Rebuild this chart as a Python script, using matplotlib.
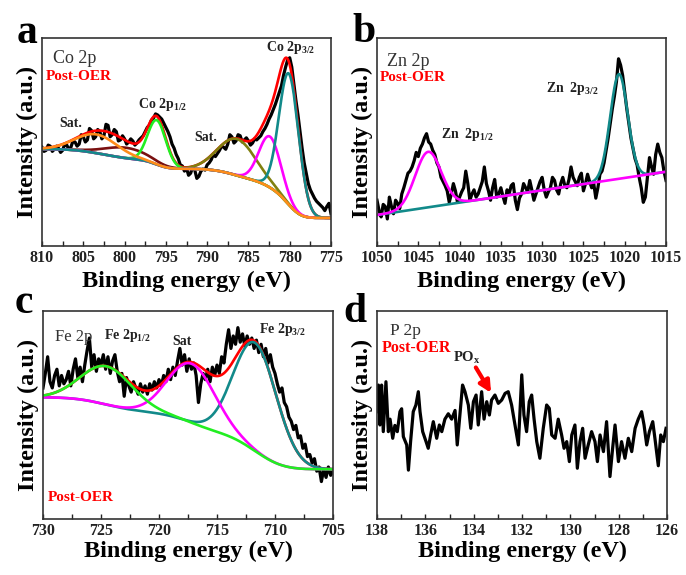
import numpy as np
import matplotlib.pyplot as plt
from matplotlib.ticker import MultipleLocator

plt.rcParams['font.family'] = 'serif'
plt.rcParams['font.serif'] = ['Liberation Serif', 'DejaVu Serif']
plt.rcParams['mathtext.default'] = 'regular'

# ---------------- data (intensity in % of axis height) ----------------
# a: Co 2p, 810 -> 775 eV every 0.25 eV
co_range = (810.0, 775.0)
co_counts = [47.5, 45.5, 46.0, 48.5, 48.0, 45.5, 46.5, 48.0, 47.0, 45.0,
             46.0, 49.0, 48.5, 46.5, 47.5, 50.5, 50.0, 48.0, 49.0, 53.5,
             52.5, 50.0, 51.0, 56.5, 55.5, 51.5, 52.5, 56.0, 55.0, 51.5,
             53.0, 58.5, 58.0, 52.5, 53.5, 56.0, 55.0, 50.5, 51.0, 53.0,
             51.5, 49.0, 50.0, 51.5, 50.5, 48.5, 49.5, 51.0, 52.0, 53.0,
             55.0, 57.0, 58.0, 60.5, 61.5, 63.5, 63.0, 62.0, 61.0, 59.0,
             57.0, 55.0, 52.5, 49.0, 47.0, 44.0, 42.0, 39.0, 38.5, 36.0,
             37.5, 34.0, 35.0, 38.0, 36.5, 32.5, 33.5, 36.0, 37.0, 36.5,
             39.0, 40.0, 41.5, 44.0, 43.0, 44.5, 46.0, 48.0, 47.5, 46.5,
             49.0, 53.5, 52.5, 49.5, 50.5, 53.5, 53.0, 50.0, 51.0, 52.0,
             50.5, 48.5, 49.5, 51.5, 51.0, 52.0, 53.0, 55.0, 56.5, 58.5,
             61.0, 63.0, 65.5, 68.0, 71.0, 74.0, 77.0, 82.0, 86.0, 89.5,
             90.5, 86.0, 78.0, 70.0, 63.0, 55.0, 47.0, 40.0, 35.0, 30.0,
             27.0, 25.0, 23.0, 21.5, 20.5, 19.5, 18.5, 17.0, 19.0, 20.5,
             15.5]
# fitted components: centre (eV), height, FWHM
co_sat1 = (803.4, 9.0, 6.0)
co_p12b = (799.8, 5.0, 6.0)
co_p12 = (796.1, 21.3, 2.6)
co_sat2 = (786.4, 17.5, 5.4)
co_p32b = (782.4, 24.5, 3.1)
co_p32 = (780.1, 63.0, 2.8)
co_bg = (13.5, 46.6)  # background at low-BE / high-BE end

# b: Zn 2p, 1050 -> 1015 eV every 0.25 eV
zn_range = (1050.0, 1015.0)
zn_counts = [22, 17, 14, 20, 19, 13, 23.5, 19, 15.5, 22,
             20.5, 18, 25, 28, 31.5, 35, 36, 38, 41, 45,
             43, 47, 49, 52, 54, 50, 49, 46, 44, 40,
             38, 33, 31, 29, 26.5, 21, 25, 30, 26.5, 21,
             23.5, 26, 28, 36, 30, 22, 25, 27, 23.5, 25,
             28, 31, 38, 30, 26.5, 22, 28, 32, 23.5, 25,
             28, 24, 20.5, 27, 25, 29, 30, 22, 17.5, 23,
             25, 30, 28, 26, 31.5, 27, 22, 25, 28, 31,
             33, 27, 23.5, 26, 28, 33, 31.5, 27, 25, 30,
             33, 29, 28, 32, 38, 33, 31, 29, 33, 35,
             26.5, 30, 34.5, 31, 28, 30, 23, 28, 34.5, 36,
             40, 46, 52, 59, 66, 72, 79, 90, 87, 82,
             74, 66, 59, 52, 47, 42, 39, 33, 28, 21,
             23.5, 33, 42.5, 38, 34.5, 44, 49, 45, 42.5, 36,
             31.5]
zn_p12 = (1043.8, 26.7, 3.7)
zn_p32 = (1020.7, 50.3, 2.5)
zn_bg = (14.9, 35.7)  # linear background at 1050 / 1015 eV

# c: Fe 2p, 730 -> 705 eV every 0.2 eV
fe_range = (730.0, 705.0)
fe_counts = [63, 70, 78, 66, 63, 69, 72, 64, 69, 65,
             67, 71, 64, 72, 77, 68, 73, 66, 74, 81,
             87, 73, 79, 71, 77, 74, 79, 72, 78, 70,
             76, 79, 71, 66, 70, 59, 68, 64, 61, 66,
             63, 60, 65, 61, 64, 60, 65, 62, 66, 63,
             67, 64, 69, 66, 72, 67, 73, 69, 76, 82,
             74, 79, 71, 77, 72, 75, 69, 56, 65, 70,
             67, 72, 66, 73, 69, 74, 70, 78, 75, 84,
             91, 82, 88, 84, 92, 85, 89, 83, 88, 84,
             87, 82, 86, 80, 84, 78, 82, 75, 79, 73,
             70, 65, 61, 63, 56, 54, 49, 47, 43, 45,
             39, 40, 34, 36, 30, 31, 27, 29, 23, 25,
             18, 24, 20, 25, 21, 23]
fe_p12 = (724.5, 18.4, 5.2)
fe_sat = (717.2, 28.4, 4.8)
fe_p32 = (711.7, 52.0, 4.4)
fe_bg = (23.9, 58.5)

# d: P 2p
p_energy = [138.00, 137.94, 137.88, 137.81, 137.74, 137.63, 137.53, 137.46, 137.35, 137.26,
            137.16, 137.05, 136.98, 136.91, 136.77, 136.70, 136.61, 136.50, 136.39, 136.29,
            136.22, 136.11, 135.97, 135.88, 135.78, 135.67, 135.53, 135.42, 135.32, 135.19,
            135.05, 134.91, 134.77, 134.68, 134.57, 134.46, 134.36, 134.22, 134.12, 134.01,
            133.90, 133.81, 133.67, 133.57, 133.46, 133.35, 133.26, 133.12, 132.98, 132.84,
            132.70, 132.57, 132.43, 132.29, 132.15, 132.01, 131.92, 131.81, 131.70, 131.60,
            131.50, 131.39, 131.26, 131.12, 130.98, 130.87, 130.77, 130.63, 130.50, 130.36,
            130.26, 130.15, 130.04, 129.94, 129.81, 129.71, 129.60, 129.49, 129.39, 129.26,
            129.12, 128.98, 128.88, 128.77, 128.63, 128.50, 128.36, 128.25, 128.15, 128.01,
            127.88, 127.74, 127.60, 127.46, 127.32, 127.19, 127.05, 126.95, 126.84, 126.73,
            126.59, 126.50, 126.36, 126.26, 126.15, 126.04]
p_counts = [51.6, 64.4, 45.2, 64.4, 42.0, 66.0, 42.0, 48.0, 38.8, 45.0,
            42.0, 51.6, 53.0, 39.6, 35.6, 23.5, 37.2, 51.6, 54.8, 61.2,
            51.6, 42.0, 37.2, 34.0, 40.4, 46.8, 38.8, 45.2, 42.0, 48.0,
            50.6, 48.0, 52.2, 35.6, 50.0, 64.4, 61.2, 54.8, 43.6, 56.4,
            59.6, 45.2, 61.2, 48.0, 56.4, 50.0, 57.2, 59.6, 55.6, 57.2,
            60.4, 61.2, 54.8, 45.2, 35.6, 69.3, 50.0, 42.0, 56.4, 59.6,
            48.0, 37.2, 29.2, 43.6, 54.8, 53.2, 40.4, 38.8, 48.0, 40.4,
            34.0, 37.2, 27.6, 40.4, 45.2, 24.4, 37.2, 43.6, 29.2, 35.6,
            42.0, 37.2, 27.6, 40.4, 32.4, 46.8, 20.4, 34.0, 45.2, 27.6,
            37.2, 29.2, 38.8, 32.4, 43.6, 48.0, 51.6, 45.2, 35.6, 42.0,
            46.8, 38.8, 25.6, 40.4, 37.2, 43.6]
p_arrow = ((133.97, 74.0), (133.22, 59.5))

RED, TEAL, MAG, GREEN = '#ff0000', '#128a8a', '#ff00ff', '#22ee22'
ORANGE, OLIVE, BROWN = '#ff8c1a', '#80800f', '#7a1010'
TXT = '#333333'


def gauss(E, peak):
    c, h, w = peak
    return h * np.exp(-4 * np.log(2) * (E - c) ** 2 / w ** 2)


def shirley(E, comps, ends):
    # E ascending; background steps up with the integrated peak area
    cum = np.cumsum(sum(comps))
    return ends[0] + (ends[1] - ends[0]) * cum / cum[-1]


def style(ax, xr, major, minor, xpad=1):
    ax.set_xlim(*xr)
    ax.set_ylim(0, 100)
    ax.set_yticks([])
    ax.xaxis.set_major_locator(MultipleLocator(major))
    ax.xaxis.set_minor_locator(MultipleLocator(minor))
    ax.tick_params(axis='x', which='both', direction='in', length=3.5, width=1.0,
                   pad=3, labelsize=11.5, colors='#222222')
    for lab in ax.get_xticklabels():
        lab.set_fontweight('bold')
    for s in ax.spines.values():
        s.set_linewidth(1.2)
        s.set_color('#333333')
    ax.set_xlabel('Binding energy (eV)', fontsize=17.5, fontweight='bold', labelpad=xpad)
    ax.set_ylabel('Intensity (a.u.)', fontsize=17.5, fontweight='bold', labelpad=3)


fig = plt.figure(figsize=(6.86, 5.75), dpi=100)
W, H = 686.0, 575.0
ax_a = fig.add_axes([42 / W, 1 - 246 / H, 289 / W, 208 / H])
ax_b = fig.add_axes([377 / W, 1 - 246 / H, 289 / W, 208 / H])
ax_c = fig.add_axes([43 / W, 1 - 519 / H, 290 / W, 208 / H])
ax_d = fig.add_axes([377 / W, 1 - 519 / H, 290 / W, 208 / H])

LW = 1.9
DLW = 2.3
lab_kw = dict(fontsize=10, fontweight='bold', color='#222222')
oer_kw = dict(fontsize=11, fontweight='bold', color=RED)
el_kw = dict(fontsize=13, color=TXT)

# ---------------- a ----------------
ax = ax_a
E = np.linspace(co_range[0], co_range[1], len(co_counts))
ax.plot(E, co_counts, color='black', lw=DLW)
Ef = np.linspace(co_range[1], co_range[0], 600)
comps = [gauss(Ef, p) for p in (co_sat1, co_p12b, co_p12, co_sat2, co_p32b, co_p32)]
bg = shirley(Ef, comps, co_bg)
ax.plot(Ef, bg + sum(comps), color=RED, lw=LW)
for comp, col in zip([comps[1], comps[2], comps[3], comps[4], comps[5], comps[0]],
                     [BROWN, GREEN, OLIVE, MAG, TEAL, ORANGE]):
    ax.plot(Ef, bg + comp, color=col, lw=LW)
style(ax, co_range, 5, 2.5, xpad=3)
ax.text(0.038, 0.90, 'Co 2p', transform=ax.transAxes, va='center', **el_kw)
ax.text(0.014, 0.817, 'Post-OER', transform=ax.transAxes, va='center', **oer_kw)
ax.text(0.859, 0.952, 'Co 2p$_{3/2}$', transform=ax.transAxes, ha='center', va='center', **lab_kw)
ax.text(0.416, 0.678, 'Co 2p$_{1/2}$', transform=ax.transAxes, ha='center', va='center', **lab_kw)
ax.text(0.098, 0.587, 'Sat.', transform=ax.transAxes, ha='center', va='center', **lab_kw)
ax.text(0.566, 0.522, 'Sat.', transform=ax.transAxes, ha='center', va='center', **lab_kw)

# ---------------- b ----------------
ax = ax_b
E = np.linspace(zn_range[0], zn_range[1], len(zn_counts))
ax.plot(E, zn_counts, color='black', lw=DLW)
Ef = np.linspace(zn_range[0], zn_range[1], 600)
bg = zn_bg[0] + (zn_bg[1] - zn_bg[0]) * (zn_range[0] - Ef) / (zn_range[0] - zn_range[1])
ax.plot(Ef, bg + gauss(Ef, zn_p32), color=TEAL, lw=LW)
ax.plot(Ef, bg + gauss(Ef, zn_p12), color=MAG, lw=LW)
style(ax, zn_range, 5, 2.5, xpad=3)
ax.text(0.0345, 0.887, 'Zn 2p', transform=ax.transAxes, va='center', **el_kw)
ax.text(0.010, 0.8125, 'Post-OER', transform=ax.transAxes, va='center', **oer_kw)
ax.text(0.676, 0.755, 'Zn  2p$_{3/2}$', transform=ax.transAxes, ha='center', va='center', **lab_kw)
ax.text(0.312, 0.534, 'Zn  2p$_{1/2}$', transform=ax.transAxes, ha='center', va='center', **lab_kw)

# ---------------- c ----------------
ax = ax_c
E = np.linspace(fe_range[0], fe_range[1], len(fe_counts))
ax.plot(E, fe_counts, color='black', lw=DLW)
Ef = np.linspace(fe_range[1], fe_range[0], 600)
comps = [gauss(Ef, p) for p in (fe_p12, fe_sat, fe_p32)]
bg = shirley(Ef, comps, fe_bg)
ax.plot(Ef, bg + sum(comps), color=RED, lw=LW)
ax.plot(Ef, bg + comps[2], color=TEAL, lw=LW)
ax.plot(Ef, bg + comps[1], color=MAG, lw=LW)
ax.plot(Ef, bg + comps[0], color=GREEN, lw=LW)
style(ax, fe_range, 5, 2.5)
ax.text(0.041, 0.873, 'Fe 2p', transform=ax.transAxes, va='center', **dict(el_kw, fontsize=12))
ax.text(0.291, 0.88, 'Fe 2p$_{1/2}$', transform=ax.transAxes, ha='center', va='center', **lab_kw)
ax.text(0.479, 0.851, 'Sat', transform=ax.transAxes, ha='center', va='center', **lab_kw)
ax.text(0.826, 0.909, 'Fe 2p$_{3/2}$', transform=ax.transAxes, ha='center', va='center', **lab_kw)
ax.text(0.017, 0.103, 'Post-OER', transform=ax.transAxes, va='center', **oer_kw)

# ---------------- d ----------------
ax = ax_d
ax.plot(p_energy, p_counts, color='black', lw=DLW)
style(ax, (138, 126), 2, 1)
ax.annotate('', xy=p_arrow[1], xytext=p_arrow[0],
            arrowprops=dict(arrowstyle='-|>', color=RED, lw=3.0, mutation_scale=17))
ax.text(0.045, 0.905, 'P 2p', transform=ax.transAxes, va='center', **dict(el_kw, fontsize=12.5))
ax.text(0.016, 0.82, 'Post-OER', transform=ax.transAxes, va='center', **dict(oer_kw, fontsize=11.5))
ax.text(0.262, 0.775, 'PO$_x$', transform=ax.transAxes, va='center',
        fontsize=10.5, fontweight='bold', color='#222222')

# panel letters
for lx, ly, s in [(17, 43, 'a'), (352, 42, 'b'), (15, 313, 'c'), (343, 322, 'd')]:
    fig.text(lx / W, 1 - ly / H, s, fontsize=30, fontweight='bold', va='baseline')

fig.savefig('out.png', dpi=100)
